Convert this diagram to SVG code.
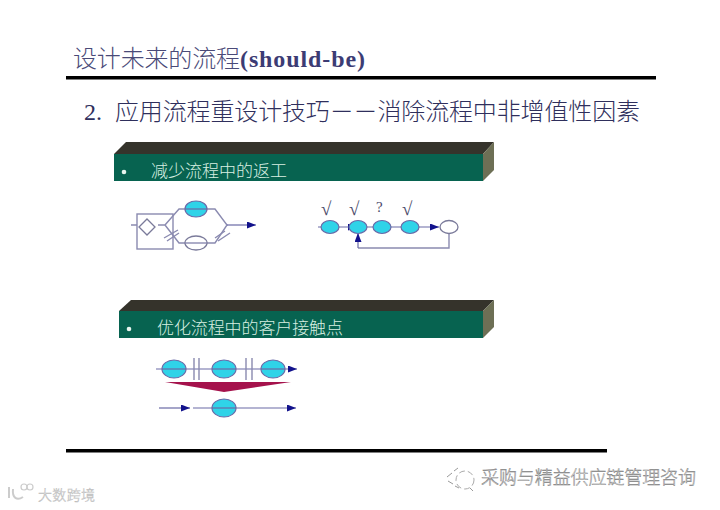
<svg xmlns="http://www.w3.org/2000/svg" width="720" height="510" viewBox="0 0 720 510">
<defs>
<marker id="arr" markerUnits="userSpaceOnUse" markerWidth="10" markerHeight="8" refX="9" refY="3.5" orient="auto"><path d="M0 0L9 3.5L0 7z" fill="#12128c"/></marker>
</defs>
<style>
.t{font-family:"Liberation Serif","Noto Sans CJK SC",serif}
.cjk{font-family:"Noto Sans CJK SC",sans-serif;font-weight:300}
.ln{fill:none;stroke:#8a8ab0;stroke-width:1.4}
.blue{fill:none;stroke:#6a6aa6;stroke-width:1.2}
.c{fill:#2fd3e8;stroke:#6a6aa8;stroke-width:1.2}
.w{fill:#fff;stroke:#7a7a9a;stroke-width:1.3}
.front{fill:#076350}.top{fill:#35332b}.side{fill:#6d6f55}
.bar{fill:#d8efe2;font-size:17px}
.wm{fill:#fff;stroke:#777;stroke-width:.45}
</style>
<rect width="720" height="510" fill="#fff"/>
<g id="title">
<text class="cjk" x="73" y="67" font-size="24" fill="#4a4a78" textLength="167">设计未来的流程</text>
<text class="t" x="240" y="67" font-size="24" font-weight="700" fill="#3c3c74" textLength="125">(should-be)</text>
<rect x="66" y="76" width="590" height="3.5" fill="#000"/>
</g>
<g id="subtitle">
<text class="t" x="84" y="120" font-size="24" fill="#2f2f5c">2.</text>
<text class="cjk" x="115" y="120" font-size="24" fill="#2f2f5c" textLength="525">应用流程重设计技巧－－消除流程中非增值性因素</text>
</g>
<g id="banner-1">
<polygon class="top" points="114,154 126,142 494,142 483,154"/>
<polygon class="side" points="483,154 494,142 494,170 483,181"/>
<rect class="front" x="114" y="154" width="369" height="27"/>
<circle cx="124" cy="172" r="2.3" fill="#e8f5ee"/>
<text class="cjk bar" x="151" y="177" textLength="136">减少流程中的返工</text>
</g>
<g id="banner-2">
<polygon class="top" points="119,311 131,300 494,300 483,311"/>
<polygon class="side" points="483,311 494,300 494,327 483,338"/>
<rect class="front" x="119" y="311" width="364" height="27"/>
<circle cx="129" cy="329" r="2.3" fill="#e8f5ee"/>
<text class="cjk bar" x="157" y="334" textLength="186">优化流程中的客户接触点</text>
</g>
<g id="connectors">
<path class="ln" d="M131 225H137M158 225H165L179 209H215L227 225L215 243H179L165 225"/>
<path class="ln" d="M164 238L178 230M167 241L179 233M215 238L225 231M218 241L230 233"/>
<path class="blue" d="M227 225H256" marker-end="url(#arr)"/>
<path class="blue" d="M318 227H357" marker-end="url(#arr)"/>
<path class="blue" d="M358 227H439" marker-end="url(#arr)"/>
<path class="ln" d="M449 233V248H358"/>
<path class="blue" d="M358 248V233" marker-end="url(#arr)"/>
<path class="blue" d="M156 369H297" marker-end="url(#arr)"/>
<path class="ln" d="M194 358V380M199 358V380M246 358V380M252 358V380"/>
<path class="blue" d="M159 408H190" marker-end="url(#arr)"/>
<path class="blue" d="M193 408H296" marker-end="url(#arr)"/>
</g>
<g id="step-box"><rect class="ln" x="137" y="214" width="36" height="35"/></g>
<g id="step-decision"><polygon class="w" points="147,219 155,227 147,235 139,227"/></g>
<g id="a1"><ellipse class="c" cx="196" cy="209" rx="11" ry="8"/><path class="blue" d="M185 209H207"/></g>
<g id="a2"><ellipse class="w" cx="196" cy="243" rx="11" ry="7"/><path class="ln" d="M185 243H207"/></g>
<g id="b1"><ellipse class="c" cx="330" cy="227" rx="9" ry="6.5"/></g>
<g id="b2"><ellipse class="c" cx="358" cy="227" rx="9" ry="6.5"/></g>
<g id="b3"><ellipse class="c" cx="382" cy="227" rx="9" ry="6.5"/></g>
<g id="b4"><ellipse class="c" cx="410" cy="227" rx="9" ry="6.5"/></g>
<g id="b5"><ellipse class="w" cx="449" cy="227" rx="9" ry="6.5"/></g>
<g id="marks" fill="#4a4a6a" class="t">
<text x="321" y="215" font-size="19">√</text><text x="349" y="215" font-size="19">√</text><text x="376" y="212" font-size="15">?</text><text x="402" y="215" font-size="19">√</text>
</g>
<g id="c1"><ellipse class="c" cx="174" cy="369" rx="12" ry="9"/><path class="blue" d="M162 369H186"/></g>
<g id="c2"><ellipse class="c" cx="224" cy="369" rx="12" ry="9"/><path class="blue" d="M212 369H236"/></g>
<g id="c3"><ellipse class="c" cx="273" cy="369" rx="12" ry="9"/><path class="blue" d="M261 369H285"/></g>
<g id="merge"><polygon points="165,382 291,382 224,392" fill="#a5124c"/></g>
<g id="d1"><ellipse class="c" cx="224" cy="408" rx="12" ry="9"/><path class="blue" d="M212 408H236"/></g>
<rect x="66" y="449" width="541" height="3.5" fill="#000"/>
<g id="watermark">
<path d="M447 477L452 473M454 471L458 468M448 481L453 484M455 486L459 488" fill="none" stroke="#999" stroke-width="1"/>
<circle cx="465" cy="480" r="9" fill="none" stroke="#aaa" stroke-width="1" stroke-dasharray="6 3"/>
<path d="M470 488L473 491" stroke="#999" stroke-width="1"/>
<text class="cjk wm" x="481" y="484" font-size="18" textLength="215">采购与精益供应链管理咨询</text>
<path d="M9 487V498M13 489C12 498 17 501 23 497" fill="none" stroke="#ccc" stroke-width="2"/>
<circle cx="24" cy="487" r="3" fill="none" stroke="#ccc" stroke-width="1.2"/>
<circle cx="30" cy="487" r="3" fill="none" stroke="#ccc" stroke-width="1.2"/>
<text class="cjk wm" x="38" y="500" font-size="14" textLength="57" style="stroke:#bbb">大数跨境</text>
</g>
</svg>
